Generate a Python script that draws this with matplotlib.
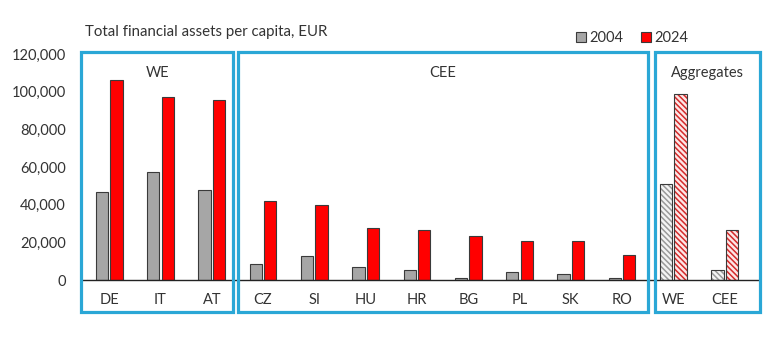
import numpy as np
import matplotlib.pyplot as plt
from matplotlib.patches import Rectangle
from matplotlib.ticker import FuncFormatter

plt.rcParams['font.family'] = ['Lato', 'DejaVu Sans']

countries = ['DE', 'IT', 'AT', 'CZ', 'SI', 'HU', 'HR', 'BG', 'PL', 'SK', 'RO', 'WE', 'CEE']
v2004 = [46900, 57200, 47600, 8500, 12700, 6900, 5300, 1000, 4000, 3000, 1000, 50800, 5300]
v2024 = [106000, 97000, 95500, 42000, 40000, 27600, 26500, 23400, 20900, 20900, 13300, 99000, 26500]
n_aggr = 2  # last two categories are aggregates (hatched)

groups = [('WE', -0.55, 2.42), ('CEE', 2.51, 10.51), ('Aggregates', 10.64, 12.69)]

box_col = '#2aa7d6'
grey = '#a6a6a6'
red = '#ff0000'
edge = '#3a3a3a'

fig = plt.figure(figsize=(7.71, 3.46), dpi=100)
ax = fig.add_axes([81 / 771, 1 - 280 / 346, (760 - 81) / 771, (280 - 54) / 346])

x = np.arange(len(countries))
w = 0.24
off = 0.14
n_c = len(countries) - n_aggr

ax.bar(x[:n_c] - off, v2004[:n_c], w, color=grey, edgecolor=edge, linewidth=0.8, label='2004')
ax.bar(x[:n_c] + off, v2024[:n_c], w, color=red, edgecolor=edge, linewidth=0.8, label='2024')

# hatched aggregates
plt.rcParams['hatch.linewidth'] = 1.1
xa = x[n_c:]
ax.bar(xa - off, v2004[n_c:], w, color='#f4f4f4', edgecolor='#9a9a9a', linewidth=0, hatch='\\' * 6)
ax.bar(xa + off, v2024[n_c:], w, color='#fde6e6', edgecolor='#d42a2a', linewidth=0, hatch='\\' * 6)
ax.bar(xa - off, v2004[n_c:], w, fill=False, edgecolor=edge, linewidth=0.8)
ax.bar(xa + off, v2024[n_c:], w, fill=False, edgecolor=edge, linewidth=0.8)

ax.set_xlim(-0.55, 12.69)
ax.set_ylim(0, 120000)
ax.set_yticks(np.arange(0, 120001, 20000))
ax.yaxis.set_major_formatter(FuncFormatter(lambda v, p: f'{int(v):,}'))
ax.set_xticks(x)
ax.set_xticklabels(countries)
ax.tick_params(axis='both', length=0, labelsize=10.5, colors='#333333')
ax.tick_params(axis='y', pad=11)
ax.tick_params(axis='x', pad=9)
for s in ['top', 'right', 'left']:
    ax.spines[s].set_visible(False)
ax.spines['bottom'].set_color('#222222')
ax.spines['bottom'].set_linewidth(1.0)

# group boxes
y_top = 121200
y_bot = -17000
for name, x0, x1 in groups:
    ax.add_patch(Rectangle((x0, y_bot), x1 - x0, y_top - y_bot, fill=False,
                           edgecolor=box_col, linewidth=2.3, clip_on=False, zorder=5))
    ax.text((x0 + x1) / 2, 110000, name, ha='center', va='center', fontsize=10.5, color='#333333')

fig.text(85 / 771, 1 - 32 / 346, 'Total financial assets per capita, EUR', ha='left', va='center',
         fontsize=10.8, color='#333333')

handles, labels = ax.get_legend_handles_labels()
fig.legend(handles, labels, loc='center', bbox_to_anchor=(632 / 771, 1 - 38 / 346), ncol=2,
           frameon=False, fontsize=10.5, handlelength=0.7, handleheight=0.7, handletextpad=0.2,
           columnspacing=1.2, labelcolor='#333333')

fig.savefig('out.png', dpi=100)
